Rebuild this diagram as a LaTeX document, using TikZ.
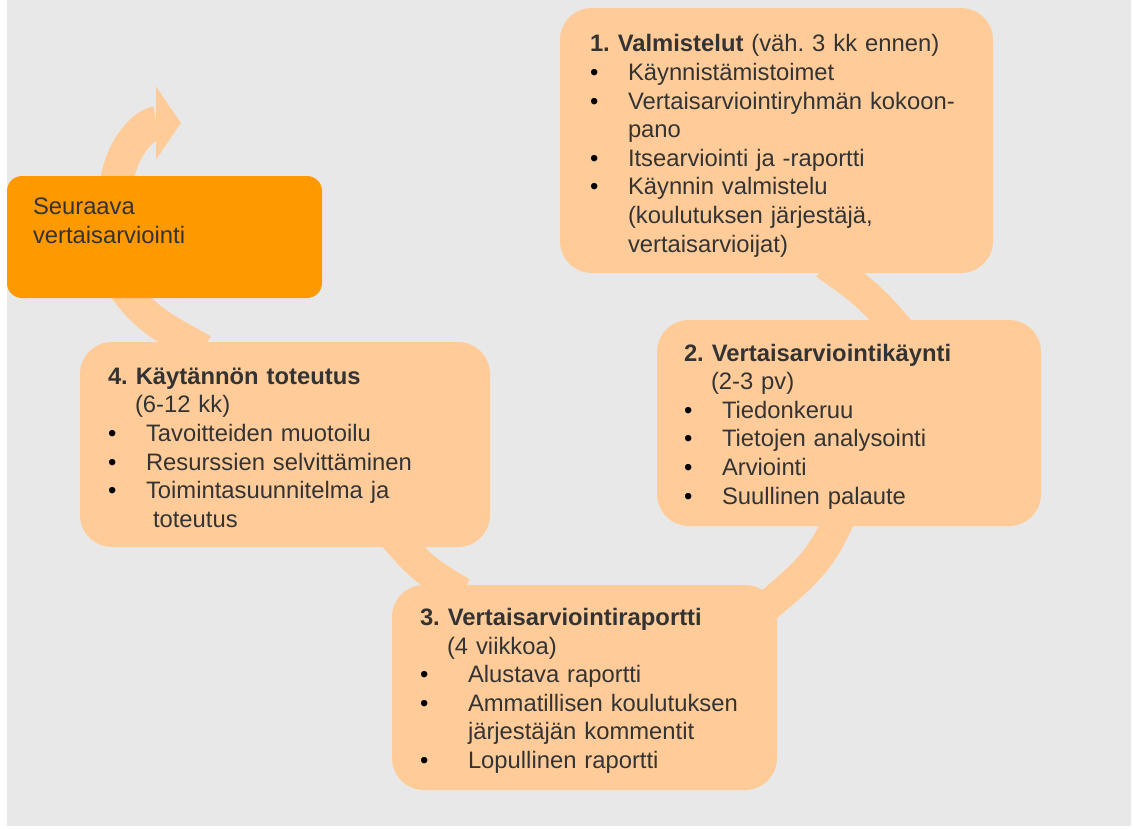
\documentclass[tikz,border=0pt]{standalone}
\usepackage{fontspec}
\setmainfont{Liberation Sans}
\usetikzlibrary{arrows.meta, positioning, calc}
\definecolor{peach}{HTML}{FFCC99}
\definecolor{tangerine}{HTML}{FF9900}
\definecolor{canvasgray}{HTML}{E8E8E8}
\definecolor{ink}{HTML}{333333}
\pgfdeclarelayer{back}
\pgfdeclarelayer{band}
\pgfsetlayers{back,band,main}
\frenchspacing
\newcommand{\itm}[2][38pt]{\makebox[#1][l]{\color{black}\textbullet}#2}
\newcommand{\cont}[2][38pt]{\hspace*{#1}#2}
\newcommand{\padtop}[1]{\rule{0pt}{#1}}

\begin{document}
\begin{tikzpicture}[x=1pt, y=-1pt, >=Stealth,
      every node/.style={font=\fontsize{23.8}{28.6}\selectfont, text=ink},
      phase/.style={fill=peach, rounded corners=32pt, align=left,
        inner ysep=0pt},
      band/.style={draw=peach, line width=31pt}]
    \useasboundingbox (0,0) rectangle (1133,828);
    \begin{pgfonlayer}{back}
      \fill[canvasgray] (7,0) rectangle (1131,826);
    \end{pgfonlayer}

    % the five steps of the cycle
    \node[phase, inner xsep=30pt, text width=373pt, minimum height=265pt]
      (prep) at (776.5,140.5)
      {\padtop{28pt}\textbf{1. Valmistelut} (väh. 3 kk ennen)\\
       \itm{Käynnistämistoimet}\\
       \itm{Vertaisarviointiryhmän kokoon-}\\
       \cont{pano}\\
       \itm{Itsearviointi ja -raportti}\\
       \itm{Käynnin valmistelu}\\
       \cont{(koulutuksen järjestäjä,}\\
       \cont{vertaisarvioijat)}};
    \node[phase, inner xsep=27pt, text width=330pt, minimum height=206pt]
      (visit) at (849,423)
      {\padtop{24pt}\textbf{2. Vertaisarviointikäynti}\\
       \cont[27pt]{(2-3 pv)}\\
       \itm{Tiedonkeruu}\\
       \itm{Tietojen analysointi}\\
       \itm{Arviointi}\\
       \itm{Suullinen palaute}};
    \node[phase, inner xsep=28pt, text width=329pt, minimum height=205pt]
      (report) at (584.5,687.5)
      {\padtop{24pt}\textbf{3. Vertaisarviointiraportti}\\
       \cont[27pt]{(4 viikkoa)}\\
       \itm[48pt]{Alustava raportti}\\
       \itm[48pt]{Ammatillisen koulutuksen}\\
       \cont[48pt]{järjestäjän kommentit}\\
       \itm[48pt]{Lopullinen raportti}};
    \node[phase, inner xsep=28pt, text width=354pt, minimum height=205pt]
      (impl) at (285,444.5)
      {\padtop{23pt}\textbf{4. Käytännön toteutus}\\
       \cont[27pt]{(6-12 kk)}\\
       \itm{Tavoitteiden muotoilu}\\
       \itm{Resurssien selvittäminen}\\
       \itm{Toimintasuunnitelma ja}\\
       \cont[45pt]{toteutus}};
    \node[phase, fill=tangerine, rounded corners=15pt, inner xsep=26pt,
      text width=263pt, minimum height=122pt]
      (next) at (164.5,237)
      {Seuraava\\vertaisarviointi\\\rule[-4pt]{0pt}{0pt}};
    \coordinate (tip) at (181,123);

    % the band that runs behind the boxes
    \begin{pgfonlayer}{band}
      \draw[band, shorten <=-16pt, shorten >=-16pt]
        (prep.-65) to[out=-35, in=130] (visit.68);
      \draw[band, shorten <=-16pt, shorten >=-16pt]
        (visit.-97) to[out=-112, in=40] (report.25);
      \draw[band, shorten <=-16pt, shorten >=-16pt]
        (report.143) to[out=150, in=-50] (impl.-41);
      \draw[band, shorten <=-16pt, shorten >=-16pt]
        (impl.133) to[out=150, in=-55] (next.-119);
      \draw[band, line width=33pt, shorten <=-16pt,
        -{Triangle[length=25pt, width=73pt, line width=0pt]}]
        (next.128) to[out=85, in=180] (tip);
    \end{pgfonlayer}
  \end{tikzpicture}
\end{document}
